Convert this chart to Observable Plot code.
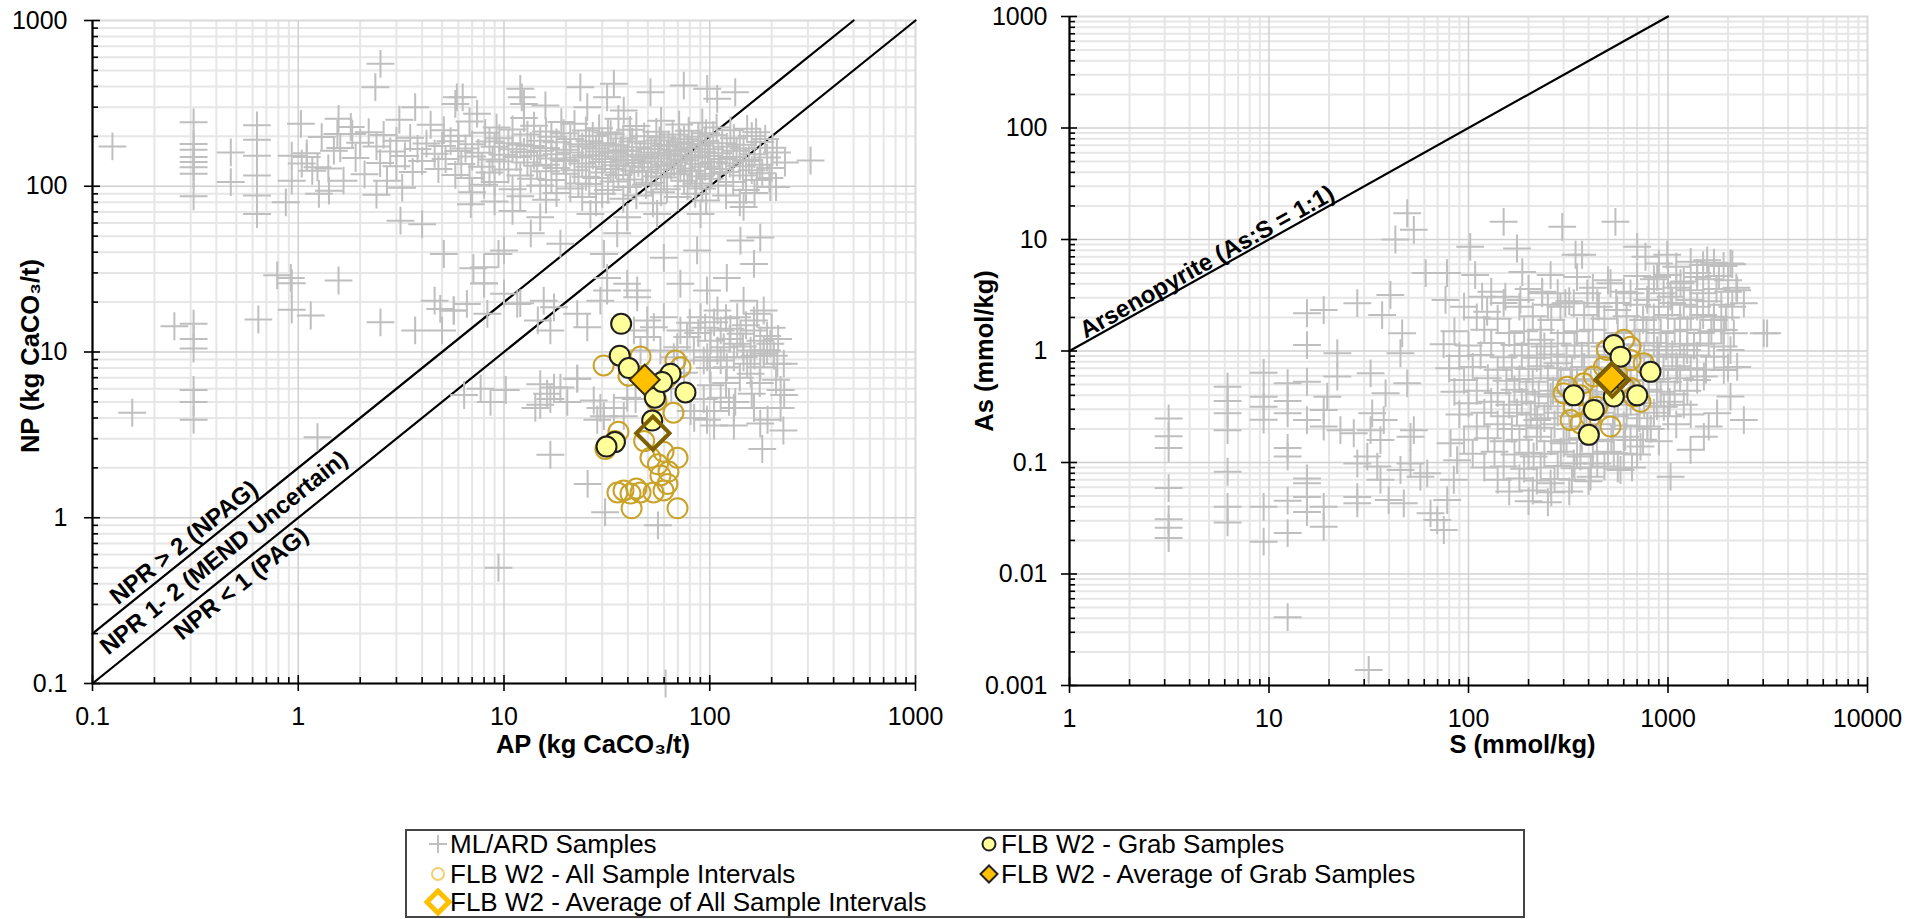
<!DOCTYPE html>
<html><head><meta charset="utf-8">
<script src="https://cdn.jsdelivr.net/npm/d3@7"></script>
<script src="https://cdn.jsdelivr.net/npm/@observablehq/plot@0.6"></script>
<style>
html,body{margin:0;padding:0;background:#fff;}
#wrap{position:relative;width:1925px;height:919px;overflow:hidden;font-family:"Liberation Sans",Arial,Helvetica,sans-serif;}
#left{position:absolute;left:0;top:0;}
#right{position:absolute;left:960px;top:0;}
#legend{position:absolute;left:405px;top:829px;width:1120px;height:89px;border:2px solid #454545;box-sizing:border-box;background:#fff;}
.lg{position:absolute;font-size:26px;line-height:28px;color:#000;white-space:nowrap;}
.mk{position:absolute;}
</style></head><body>
<div id="wrap"><div id="left"></div><div id="right"></div><div id="legend"></div></div>
<script>
// ---------------- DATA ----------------
// Left panel: AP (x) vs NP (y), kg CaCO3/t
const leftXTicks = [0.1, 1, 10, 100, 1000];
const leftYTicks = [0.1, 1, 10, 100, 1000];
const leftXTitle = "AP (kg CaCO\u2083/t)";
const leftYTitle = "NP (kg CaCO\u2083/t)";
const nprEqualLine = [[0.1, 0.1], [1000, 1000]];    // NPR = 1
const nprTwoLine = [[0.1, 0.2], [500, 1000]];       // NPR = 2
const nprLabels = [
  {x: 0.306, y: 0.612, text: "NPR > 2 (NPAG)", anchor: "bottom", side: -1},
  {x: 0.435, y: 0.615, text: "NPR 1- 2 (MEND Uncertain)", anchor: "middle", side: 0},
  {x: 0.474, y: 0.474, text: "NPR < 1 (PAG)", anchor: "top", side: 1}
];

const mlardLeftSparse = [
  [0.125,174],[0.156,4.3],[0.25,14.3],
  [0.31,243],[0.31,180],[0.31,166],[0.31,150],[0.31,140],[0.31,130],[0.31,119],[0.31,87],
  [0.31,14.8],[0.31,12],[0.31,10.5],[0.31,5.9],[0.31,5],[0.31,3.9],
  [0.47,160],[0.47,106],
  [0.63,233],[0.63,191],[0.63,153],[0.63,116],[0.63,88],[0.63,68],[0.64,15.7],
  [0.87,80],[0.79,29],[0.92,28],[0.93,26],[0.93,18],[1.15,16.6],
  [0.93,153],[0.93,108],[1.03,238],[1.04,137],[1.1,150],[1.17,124],[1.24,130],[1.26,90],[1.41,94],
  [1.57,255],[1.55,207],[1.49,164],[1.66,108],[1.83,207],[1.57,27],
  [2.51,548],[2.37,396],[2.51,15.1],[3.7,300],[6.3,344],[5.8,314],[7.4,274],
  [3.14,62],[4.0,59],[5.1,39],[7.1,32],[8.0,26],[9.4,39],
  [4.6,20.4],[4.9,18.2],[5.7,17.8],[5.0,13.5],[3.7,13.5],[8.3,17],
  [1.24,3.06],[9.4,0.5],[61,0.1],[56,0.9],[180,2.6],[25.5,1.6],[31,1.08],[16.8,2.4],
  [228,3.36],[221,4.6],[221,5.9],[191,3.9],
  [12,387],[23.5,395],[34.2,415],[51.5,369],[74.8,405],[97.2,387],[133,369],[5.9,344],
  [31.7,344],[15.9,307],[25.4,300],[38.2,286],[108.7,337],[12.2,344],[12.5,314],[309,143],
  [6.9,78],[11,71],[15,65],[26.3,68],[39.7,65],[55.5,68],[90.2,68],[146,75],[197,99],
  [13.5,52],[18.8,45],[35.5,52],[86.8,41],[141,47],[176,49],[8,32.5],[10,41],[30.6,39],
  [59.8,37],[164,34],[6.6,19.5],[11.6,19.5],[15.6,20.4],[31.7,28],[44.4,23.5],[72,25.8],
  [97,23.5],[121,28],[146,20.4],[183,17.8],
  [5.7,17.8],[8,25.9],[10,22.5],[12,19.7],[14.6,15.5],[16.8,13.5],
  [6.4,5.5],[7.7,6.0],[8.6,5.0],[10.2,5.9],[14.2,4.6],[15,6.4],[17.5,6.1],[16.8,5.2],
  [20.3,5.0],[22.7,6.9],[27.3,5.1],[28.4,3.9],[30.6,4.1],[38.2,4.1],[39.7,5.3],[43.6,5.2],
  [93.5,8.9],[109,10.2],[121,8.1],[146,9.3],[158,7.4],[183,10.2],[197,11.2],[213,8.5],
  [229,8.5],[131,3.6],[105,3.6],[124,5.0],[101,6.3],[133,5.0],[93.5,5.2],[80.7,4.4],
  [90.2,16.2],[105,15.1],[113,13.5],[126,13.8],[141,12.9],[164,13.5],[176,11.7],[101,11.7],
  [117,10.7],[136,11.2],[158,10.2],[183,9.8],[77.7,12.3],[83.7,10.2],[97.2,9.3],[113,8.9],
  [131,9.3],[152,8.5],[176,8.1],[190,10.2],[69.5,10.7],[72,13.5],[136,16.2],[164,15.5],
  [109,17.8],[59.8,16.2],[53.5,14.1],[49.7,15.5],[42.8,13.5],[49.7,12.3],[46.1,10.2],
  [57.6,10.2],[66.9,9.3],[113,5.3],[131,4.6],[105,4.4],[164,4.6],[176,3.7],[97,3.9],[84,4.0],
  [17.5,18.6],[22.7,17],[25.4,14.1],[29.4,20.4],[31.7,23.5],[39.7,25.8],[44.4,21.4],
  [29.4,4.6],[34.2,4.6],[16.2,5.6],[18.8,6.1],[15,4.8],[22.7,6.9],
  [95,14],[120,16],[150,14.5],[170,17],[200,14],[215,12],[80,15],[88,13],[125,12],
  [145,10.8],[165,9.5],[190,12.5],[205,9.5],[100,8],[140,7],[175,6.5],[210,6.8],[230,5.5],
  [160,5.6],[75,7.5],[65,6],[120,6.5]
];
const mlardLeftBand = [
  [3.1,252],[6.8,246],[12.5,258],[19,244],[36,255],[58,248],[92,242],
  [1.8,228],[4.4,235],[9.2,226],[14,232],[22,238],[29,224],[44,231],[71,236],[108,226],[152,222],
  [2.2,212],[5.1,218],[8.1,210],[11,220],[16,214],[19.5,209],[25,217],[32,211],[41,219],[55,213],
  [79,216],[96,209],[126,218],[168,212],
  [1.3,198],[2.6,204],[3.5,196],[6,202],[9.5,195],[13,205],[17,199],[21,193],[27,201],[33,206],
  [38,194],[48,200],[58,197],[66,205],[75,192],[88,199],[104,203],[131,195],[160,201],[186,193],
  [2,183],[3,188],[4.2,181],[5.5,187],[7,179],[8.5,186],[10.5,182],[12,178],[15,188],[18,184],
  [23,179],[26,187],[30,182],[35,177],[42,186],[50,181],[57,189],[63,178],[72,184],[82,180],
  [95,187],[115,182],[140,178],[176,185],
  [1.6,170],[2.4,174],[3.8,168],[5,175],[6.5,169],[9,173],[11,167],[13.5,175],[16,170],[20,166],
  [24,174],[28,169],[32,176],[37,165],[44,172],[52,168],[60,175],[68,166],[78,171],[90,176],
  [100,167],[121,173],[146,169],[202,171],
  [1.1,158],[2.8,162],[4.6,157],[6,163],[7.5,159],[10,155],[12.5,161],[15,164],[18,156],[21,160],
  [25,154],[29,162],[34,158],[40,163],[46,155],[54,160],[62,157],[70,163],[80,154],[92,161],
  [110,158],[135,164],[165,156],[212,160],
  [1.9,148],[3.3,152],[5.2,146],[7,151],[8.8,145],[11.5,150],[14,153],[17,147],[19.5,144],[23,149],
  [27,153],[31,146],[36,151],[42,144],[48,150],[56,147],[64,153],[73,145],[85,149],[98,152],
  [115,146],[130,150],[155,144],[190,149],
  [2.5,138],[4,142],[6.2,136],[9.5,141],[13,139],[16,135],[20,142],[24,137],[30,140],[35,134],
  [39,143],[45,138],[52,141],[60,135],[67,139],[76,143],[88,136],[105,140],[125,137],[150,142],
  [175,135],[232,139],
  [1.4,128],[3,132],[4.8,127],[7.8,131],[10.5,126],[14.5,133],[18,129],[22,125],[26,131],[33,127],
  [38,132],[43,124],[50,130],[58,126],[65,133],[72,128],[82,124],[95,131],[112,127],[140,132],
  [160,125],[200,129],
  [2.1,118],[3.6,122],[5.8,117],[8.5,121],[12,116],[16,123],[20,119],[25,114],[30,121],[36,117],
  [47,122],[55,115],[62,120],[70,118],[80,123],[90,115],[102,119],[120,122],[145,116],[180,120],
  [2.7,108],[6.8,112],[9,106],[13.5,111],[17,109],[23,104],[28,112],[34,107],[41,110],[52,105],
  [60,113],[75,108],[86,104],[100,111],[130,106],[170,109],[195,112],
  [3.2,98],[8,102],[11,96],[15,101],[21,97],[26,103],[32,95],[40,99],[49,102],[62,96],[78,100],
  [92,97],[110,101],[150,95],[210,99],
  [2.4,89],[7,92],[12,87],[18,91],[24,86],[30,90],[44,88],[58,92],[70,86],[85,90],[120,88],[165,91],
  [9,81],[16,83],[28,80],[38,84],[53,79],[96,82],[140,80]
];
const allIntervalsLeft = [
  [30.5,8.3],[46.1,9.4],[68.2,8.9],[72.1,8.1],[66.6,4.3],[36.0,3.3],[31.1,2.6],[51.5,2.3],
  [59.6,2.5],[69.7,2.3],[63.0,1.9],[57.6,1.8],[62.3,1.6],[35.6,1.42],[38.1,1.46],[41.2,1.40],
  [46.1,1.42],[53.3,1.42],[59.6,1.46],[41.7,1.14],[69.7,1.14],[55.1,5.1],[40.3,7.2],[48,2.9],
  [44,1.5],[56,2.1],[34.6,2.9],[31.5,2.7],[54,5.5],[62,7.0]
];
const grabLeft = [
  [37.1,14.8],[36.5,9.5],[40.4,8.0],[64.5,7.4],[76.2,5.7],[54.1,5.3],[52.5,3.86],[34.6,2.86],
  [31.5,2.69],[58.7,6.6]
];
const avgGrabLeft = [[48.3,6.8]];
const avgAllLeft = [[52.9,3.24]];

// Right panel: S (x) vs As (y), mmol/kg
const rightXTicks = [1, 10, 100, 1000, 10000];
const rightYTicks = [0.001, 0.01, 0.1, 1, 10, 100, 1000];
const rightXTitle = "S (mmol/kg)";
const rightYTitle = "As (mmol/kg)";
const arsenopyriteLine = [[1, 1], [1000, 1000]];
const arsenopyriteLabel = [{x: 5.2, y: 5.2, text: "Arsenopyrite (As:S = 1:1)"}];

const mlardRightSparse = [
  [3.14,0.248],[3.14,0.172],[3.14,0.135],[3.14,0.059],[3.14,0.031],[3.14,0.026],[3.14,0.021],
  [6.2,0.478],[6.2,0.357],[6.2,0.276],[6.2,0.195],[6.2,0.0826],[6.2,0.040],[6.2,0.029],
  [9.4,0.638],[9.4,0.389],[9.4,0.316],[9.4,0.242],[9.4,0.040],[9.4,0.0195],
  [12.4,0.514],[12.4,0.357],[12.4,0.276],[12.4,0.135],[12.4,0.113],[12.4,0.0455],[12.4,0.0233],[12.4,0.0041],
  [15.5,1.13],[15.5,0.53],[15.5,0.24],[15.5,0.072],[15.5,0.065],[15.5,0.049],[15.5,0.036],
  [18.8,0.296],[18.8,0.21],[18.8,0.040],[18.8,0.0265],[19.6,0.389],[22,0.955],[22,0.59],[22.8,0.195],
  [26.6,0.183],[27.7,0.098],[27.7,0.049],[27.7,0.043],[31.1,0.113],[32.3,0.63],[32.3,0.195],
  [32.9,0.276],[34.9,0.092],[36.2,0.159],[37.6,0.24],[38.4,0.417],[36.2,0.070],[39.8,0.046],
  [45.6,0.955],[45.6,0.0857],[47.4,0.043],[49.3,0.513],[51.2,0.170],[51.2,0.098],[53.2,0.195],
  [57.4,0.0746],[62.1,0.080],[64.5,0.035],[69.7,0.0305],[75.2,0.0248],[78.2,0.046],[84.4,0.070],
  [87.7,0.105],[81.3,0.149],[31.6,0.00138],
  [49.3,17.2],[53.2,12.2],[43,10],[150,14.4],[295,13],[102,8.6],[175,8.3],[344,7.3],
  [61,5.0],[78,5.0],[108,4.8],[186,5.1],[258,4.8],[15.5,2.18],[18.8,2.33],[27.7,2.68],
  [40.6,3.18],[36.9,2.1],[46.5,1.44],[76.7,2.87],[117,3.07],[124,2.25],[153,3.07],[182,2.87],
  [234,3.29],[306,2.68],
  [545,14.4],[371,7.3],[701,8.6],[771,7.0],[991,7.3],[234,3.4],[2057,6.1],[1572,6.5],[2222,3.5],
  [3140,1.44],[2138,1.44],[2400,2.68],[1400,5.0],[1155,4.05],[883,4.6],[649,3.29],[515,4.05],
  [442,2.68],[337,2.68],[289,2.49],[394,3.29],[556,2.33],[787,2.87],[1030,3.07],[1297,2.87],
  [1698,2.03],[1905,1.54],
  [230,1.26],[279,0.776],[325,0.55],[258,0.39],[221,0.24],[300,0.149],[364,0.113],[442,0.098],
  [535,0.121],[649,0.159],[787,0.21],[953,0.316],[1030,0.0746],[1297,0.13],[1513,0.17],
  [1763,0.276],[2057,0.39],[2222,0.72],[2057,1.02],[2400,0.24],[1905,0.676],[3020,1.44],
  [1112,0.676],[1248,1.02],[1513,0.59],[883,1.02],[728,0.139],[578,0.0857],[409,0.0746],
  [258,0.065],[337,0.098],[212,0.113]
];
const mlardRightCloud = [
  [900,6.1],[1100,5.7],[1300,6.3],[1500,5.9],[1700,6.2],[1900,5.8],[2100,6.0],
  [350,4.6],[500,4.3],[700,4.7],[850,4.4],[1000,4.8],[1200,4.2],[1400,4.6],[1600,4.4],[1800,4.7],[2000,4.3],
  [130,3.4],[200,3.6],[280,3.3],[420,3.7],[600,3.4],[800,3.6],[950,3.3],[1100,3.7],[1300,3.5],
  [1500,3.3],[1750,3.6],[2000,3.4],[2200,3.7],
  [95,2.5],[150,2.7],[180,2.5],[250,2.6],[320,2.8],[450,2.5],[550,2.7],[700,2.6],[900,2.5],
  [1050,2.7],[1200,2.6],[1400,2.5],[1600,2.8],[1850,2.6],[2100,2.5],
  [110,2.0],[140,1.95],[210,2.05],[260,1.9],[380,2.1],[480,1.95],[620,2.05],[750,1.9],[850,2.0],
  [1000,2.1],[1150,1.95],[1300,2.0],[1500,2.1],[1700,1.9],[1950,2.0],
  [85,1.5],[120,1.55],[160,1.45],[190,1.5],[230,1.55],[300,1.45],[350,1.5],[420,1.55],[560,1.45],
  [680,1.5],[780,1.55],[920,1.45],[1080,1.5],[1250,1.55],[1450,1.45],[1650,1.5],[1850,1.55],
  [75,1.15],[100,1.12],[130,1.18],[170,1.13],[200,1.16],[240,1.1],[280,1.17],[340,1.12],[400,1.18],
  [480,1.1],[600,1.15],[720,1.12],[850,1.18],[980,1.1],[1150,1.16],[1350,1.12],[1600,1.17],[1900,1.1],
  [90,0.9],[115,0.92],[150,0.88],[185,0.91],[220,0.87],[260,0.93],[310,0.89],[370,0.91],[440,0.88],
  [530,0.92],[640,0.87],[760,0.91],[900,0.89],[1050,0.93],[1200,0.88],[1400,0.91],[1700,0.89],
  [80,0.7],[105,0.72],[140,0.68],[165,0.71],[200,0.69],[230,0.73],[280,0.7],[330,0.68],[380,0.72],
  [450,0.69],[520,0.71],[610,0.68],[700,0.72],[820,0.7],[950,0.69],[1100,0.73],[1300,0.7],[1550,0.68],[2000,0.71],
  [95,0.55],[125,0.57],[155,0.54],[180,0.56],[210,0.53],[250,0.57],[290,0.55],[350,0.54],[410,0.56],
  [480,0.53],[560,0.57],[650,0.55],[750,0.54],[880,0.56],[1000,0.53],[1150,0.57],[1400,0.55],
  [85,0.43],[110,0.44],[140,0.42],[170,0.45],[195,0.43],[225,0.41],[265,0.44],[320,0.42],[375,0.45],
  [440,0.43],[500,0.41],[580,0.44],[680,0.42],[800,0.45],[920,0.43],[1080,0.41],[1250,0.44],
  [100,0.34],[130,0.35],[160,0.33],[185,0.35],[215,0.34],[250,0.32],[300,0.35],[360,0.33],[420,0.34],
  [490,0.36],[560,0.33],[650,0.35],[760,0.34],[880,0.32],[1020,0.35],[1200,0.33],
  [90,0.27],[120,0.28],[150,0.26],[175,0.28],[205,0.27],[240,0.25],[280,0.28],[330,0.26],[390,0.27],
  [460,0.28],[540,0.26],[620,0.27],[720,0.25],[850,0.28],[1000,0.26],[1300,0.27],
  [110,0.21],[140,0.22],[165,0.2],[195,0.215],[230,0.205],[270,0.22],[320,0.2],[380,0.21],[450,0.22],
  [530,0.2],[600,0.215],[700,0.21],[820,0.2],[1100,0.22],[1600,0.21],
  [95,0.16],[125,0.165],[150,0.155],[180,0.16],[220,0.17],[260,0.155],[310,0.16],[370,0.165],
  [440,0.155],[520,0.16],[610,0.17],[750,0.16],[900,0.155],
  [105,0.12],[135,0.125],[170,0.118],[200,0.122],[240,0.12],[290,0.125],[350,0.118],[420,0.12],
  [500,0.125],[600,0.12],[700,0.118],
  [120,0.09],[150,0.092],[190,0.088],[230,0.09],[280,0.093],[340,0.089],[410,0.09],[480,0.092],
  [560,0.088],[660,0.09],
  [140,0.07],[180,0.072],[220,0.069],[270,0.071],[330,0.07],[400,0.068],
  [160,0.055],[210,0.056],[260,0.054],[320,0.055],[200,0.045],[250,0.044]
];
const allIntervalsRight = [
  [601,1.26],[649,1.09],[477,0.72],[649,0.83],[756,0.776],[425,0.59],[378,0.513],[312,0.478],
  [300,0.417],[364,0.40],[337,0.316],[442,0.316],[601,0.478],[674,0.39],[728,0.35],[325,0.24],
  [364,0.224],[515,0.21],[649,0.468],[409,0.257],[556,0.63],[495,1.02]
];
const grabRight = [
  [535,1.13],[817,0.65],[337,0.40],[535,0.39],[701,0.40],[425,0.296],[401,0.177],[578,0.89]
];
const avgGrabRight = [[515,0.57]];
const avgAllRight = [[525,0.55]];

// Legend
const legendLabels = [
  "ML/ARD Samples",
  "FLB W2 - All Sample Intervals",
  "FLB W2 - Average of All Sample Intervals",
  "FLB W2 - Grab Samples",
  "FLB W2 - Average of Grab Samples"
];

// ---------------- STYLE ----------------
const FONT = '"Liberation Sans", Arial, Helvetica, sans-serif';
const C = {
  plus: "#bfbfbf", gridMinor: "#e6e6e6", gridMajor: "#d0d0d0", frame: "#d9d9d9",
  allStroke: "#c9a227", grabFill: "#ffff99", grabStroke: "#1e1e1e",
  avgGrabFill: "#ffc000", avgGrabStroke: "#3a3000", avgAllStroke: "#7f6000"
};
const isMajor = (v, majors) => majors.some(m => Math.abs(v / m - 1) < 1e-6);
const minorOf = majors => d3.scaleLog().domain([majors[0], majors[majors.length - 1]]).ticks().filter(v => !isMajor(v, majors));
const X = d => d[0], Y = d => d[1];

function gridMarks(xT, yT) {
  return [
    Plot.ruleX(minorOf(xT), {stroke: C.gridMinor, strokeWidth: 2}),
    Plot.ruleY(minorOf(yT), {stroke: C.gridMinor, strokeWidth: 2}),
    Plot.ruleX(xT.slice(1, -1), {stroke: C.gridMajor, strokeWidth: 1.5}),
    Plot.ruleY(yT.slice(1, -1), {stroke: C.gridMajor, strokeWidth: 1.5}),
    Plot.frame({stroke: C.frame, strokeWidth: 2})
  ];
}
function axisMarks(xT, yT, xPad, yPad) {
  const fmt = d => String(d);
  const tk = {fill: "none", stroke: "#000", strokeWidth: 1.6, label: null};
  return [
    Plot.ruleX([xT[0]], {stroke: "#000", strokeWidth: 2.2}),
    Plot.ruleY([yT[0]], {stroke: "#000", strokeWidth: 2.2}),
    Plot.axisX(minorOf(xT), {anchor: "bottom", tickSize: -6, ...tk}),
    Plot.axisY(minorOf(yT), {anchor: "left", tickSize: -6, ...tk}),
    Plot.axisX(xT, {anchor: "bottom", tickSize: 8, ...tk}),
    Plot.axisX(xT, {anchor: "bottom", tickSize: -8, ...tk}),
    Plot.axisY(yT, {anchor: "left", tickSize: 8, ...tk}),
    Plot.axisY(yT, {anchor: "left", tickSize: -8, ...tk}),
    Plot.axisX(xT, {anchor: "bottom", tickSize: 0, tickPadding: xPad, tickFormat: fmt, fontSize: 25, fill: "#000", label: null}),
    Plot.axisY(yT, {anchor: "left", tickSize: 0, tickPadding: yPad, tickFormat: fmt, fontSize: 25, fill: "#000", label: null})
  ];
}
function sampleMarks(ml, all, grab, avgGrab, avgAll) {
  return [
    Plot.dot(ml, {x: X, y: Y, symbol: "plus", r: 9, stroke: C.plus, strokeWidth: 2, fill: "none"}),
    Plot.dot(all, {x: X, y: Y, r: 10, fill: "none", stroke: C.allStroke, strokeWidth: 2}),
    Plot.dot(grab, {x: X, y: Y, r: 10, fill: C.grabFill, stroke: C.grabStroke, strokeWidth: 2}),
    Plot.dot(avgGrab, {x: X, y: Y, symbol: "diamond2", r: 13.5, fill: C.avgGrabFill, stroke: C.avgGrabStroke, strokeWidth: 2}),
    Plot.dot(avgAll, {x: X, y: Y, symbol: "diamond2", r: 15, fill: "none", stroke: C.avgAllStroke, strokeWidth: 4})
  ];
}

// perpendicular offset (screen px) for labels set off a line at angle a (deg)
const off = (a, side, d) => {
  const t = a * Math.PI / 180;
  return {dx: side * d * Math.sin(t), dy: side * d * Math.cos(t)};
};
const LEFT_ANGLE = 38.86, RIGHT_ANGLE = 29.2;

// ---------------- LEFT PANEL ----------------
const leftPlot = Plot.plot({
  width: 960, height: 800,
  marginLeft: 92, marginRight: 45, marginTop: 20, marginBottom: 117,
  x: {type: "log", domain: [0.1, 1000]},
  y: {type: "log", domain: [0.1, 1000]},
  style: {fontFamily: FONT, fontSize: "25px", color: "#000", background: "transparent", overflow: "visible"},
  marks: [
    ...gridMarks(leftXTicks, leftYTicks),
    Plot.line(nprEqualLine, {x: X, y: Y, stroke: "#000", strokeWidth: 2.2}),
    Plot.line(nprTwoLine, {x: X, y: Y, stroke: "#000", strokeWidth: 2.2}),
    ...nprLabels.map(l => Plot.text([l], {x: "x", y: "y", text: "text", rotate: -LEFT_ANGLE, lineAnchor: l.anchor,
      ...off(LEFT_ANGLE, l.side, 6), fontWeight: "bold", fontSize: 24, fill: "#000", fontFamily: FONT})),
    ...sampleMarks([...mlardLeftSparse, ...mlardLeftBand], allIntervalsLeft, grabLeft, avgGrabLeft, avgAllLeft),
    ...axisMarks(leftXTicks, leftYTicks, 24, 25),
    Plot.text([leftYTitle], {frameAnchor: "left", textAnchor: "middle", lineAnchor: "middle", dx: -62, dy: 4, rotate: -90, text: d => d, fontWeight: "bold", fontSize: 25.5, fill: "#000"}),
    Plot.text([leftXTitle], {frameAnchor: "bottom", textAnchor: "middle", dx: 89, dy: 69, text: d => d, fontWeight: "bold", fontSize: 25.5, fill: "#000"})
  ]
});
document.getElementById("left").appendChild(leftPlot);

// ---------------- RIGHT PANEL ----------------
const rightPlot = Plot.plot({
  width: 965, height: 800,
  marginLeft: 109, marginRight: 58, marginTop: 16, marginBottom: 115,
  x: {type: "log", domain: [1, 10000]},
  y: {type: "log", domain: [0.001, 1000]},
  style: {fontFamily: FONT, fontSize: "25px", color: "#000", background: "transparent", overflow: "visible"},
  marks: [
    ...gridMarks(rightXTicks, rightYTicks),
    Plot.line(arsenopyriteLine, {x: X, y: Y, stroke: "#000", strokeWidth: 2.2}),
    Plot.text(arsenopyriteLabel, {x: "x", y: "y", text: "text", rotate: -RIGHT_ANGLE, lineAnchor: "bottom",
      ...off(RIGHT_ANGLE, -1, 3), fontWeight: "bold", fontSize: 24, fill: "#000"}),
    ...sampleMarks([...mlardRightSparse, ...mlardRightCloud], allIntervalsRight, grabRight, avgGrabRight, avgAllRight),
    ...axisMarks(rightXTicks, rightYTicks, 24, 22),
    Plot.text([rightYTitle], {frameAnchor: "left", textAnchor: "middle", lineAnchor: "middle", dx: -85, dy: 0, rotate: -90, text: d => d, fontWeight: "bold", fontSize: 25.5, fill: "#000"}),
    Plot.text([rightXTitle], {frameAnchor: "bottom", textAnchor: "middle", dx: 54, dy: 67, text: d => d, fontWeight: "bold", fontSize: 25.5, fill: "#000"})
  ]
});
document.getElementById("right").appendChild(rightPlot);

// ---------------- LEGEND ----------------
const lg = document.getElementById("legend");
const markerSvgs = [
  `<svg width="24" height="24"><path d="M3,12H21M12,3V21" stroke="${C.plus}" stroke-width="2" fill="none"/></svg>`,
  `<svg width="24" height="24"><circle cx="12" cy="12" r="6" fill="#fff" stroke="#f2cf6e" stroke-width="2"/></svg>`,
  `<svg width="28" height="28"><path d="M14,3L25,14L14,25L3,14Z" fill="#fff" stroke="#ffc000" stroke-width="5"/></svg>`,
  `<svg width="24" height="24"><circle cx="12" cy="12" r="6.5" fill="${C.grabFill}" stroke="#222" stroke-width="2"/></svg>`,
  `<svg width="24" height="24"><path d="M12,3.5L20.5,12L12,20.5L3.5,12Z" fill="${C.avgGrabFill}" stroke="#222" stroke-width="2"/></svg>`
];
const pos = [[31, 13], [31, 43], [31, 71], [582, 13], [582, 43]];
legendLabels.forEach((t, i) => {
  const [cx, cy] = pos[i];
  const big = i === 2;
  const s = big ? 28 : 24;
  const m = document.createElement("div");
  m.className = "mk";
  m.style.left = (cx - s / 2) + "px"; m.style.top = (cy - s / 2) + "px";
  m.innerHTML = markerSvgs[i];
  lg.appendChild(m);
  const d = document.createElement("div");
  d.className = "lg";
  d.style.left = (cx + 12) + "px"; d.style.top = (cy - 14) + "px";
  d.textContent = t;
  lg.appendChild(d);
});
</script></body></html>
